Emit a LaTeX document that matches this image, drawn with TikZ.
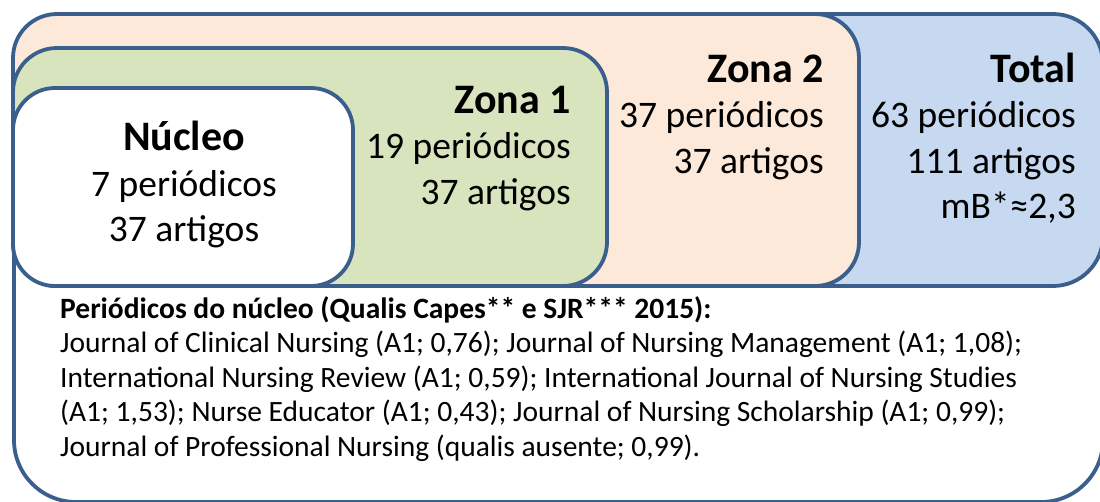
\documentclass[tikz,border=0pt]{standalone}
\usepackage{fontspec}
\setmainfont{Carlito}
\definecolor{edge}{HTML}{3A5F8C}
\definecolor{peachfill}{HTML}{FDE9D9}
\definecolor{greenfill}{HTML}{D7E4BD}
\definecolor{bluefill}{HTML}{C6D9F1}
\newcommand{\headtxt}[1]{{\fontsize{42}{45.5}\selectfont\bfseries #1}}
\begin{document}
\begin{tikzpicture}[x=1pt,y=-1pt,
  box/.style={draw=edge,line width=3.8pt,rounded corners=#1},
  box/.default=45pt,
  bigtxt/.style={inner sep=0pt,font=\fontsize{37.5}{45.5}\selectfont},
  smalltxt/.style={inner sep=0pt,font=\fontsize{29.5}{34.5}\selectfont}]
\useasboundingbox (0,0) rectangle (1100,501);
\fill[white] (0,0) rectangle (1100,501);
\begin{scope}
\clip (0,0) rectangle (1100,501);
% outer box
\draw[box=62pt,fill=white] (14,14) rectangle (1103,502);
% total
\draw[box=50pt,fill=bluefill] (14,14) rectangle (1103,286);
% zona 2
\draw[box=44pt,fill=peachfill] (13,14) rectangle (859,286);
% zona 1
\draw[box=44pt,fill=greenfill] (13,48) rectangle (607,286);
% nucleo
\draw[box=42pt,fill=white] (13,88) rectangle (353,286);
\end{scope}
% anchors at the baseline of the last line of each text
\node[bigtxt,anchor=base,align=center] (nuc) at (184,241.5) {\headtxt{Núcleo}\\7 periódicos\\37 artigos};
\node[bigtxt,anchor=base east,align=right] (z1) at (571,204) {\headtxt{Zona 1}\\19 periódicos\\37 artigos};
\node[bigtxt,anchor=base east,align=right] (z2) at (824,173) {\headtxt{Zona 2}\\37 periódicos\\37 artigos};
\node[bigtxt,anchor=base east,align=right] (tot) at (1076,218.5) {\headtxt{Total}\\63 periódicos\\111 artigos\\mB*≈2,3};
\node[smalltxt,anchor=base west,align=left] (list) at (60,456) {\textbf{Periódicos do núcleo (Qualis Capes** e SJR*** 2015):}\\
Journal of Clinical Nursing (A1; 0,76); Journal of Nursing Management (A1; 1,08);\\
International Nursing Review (A1; 0,59); International Journal of Nursing Studies\\
(A1; 1,53); Nurse Educator (A1; 0,43); Journal of Nursing Scholarship (A1; 0,99);\\
Journal of Professional Nursing (qualis ausente; 0,99).};
\end{tikzpicture}
\end{document}
